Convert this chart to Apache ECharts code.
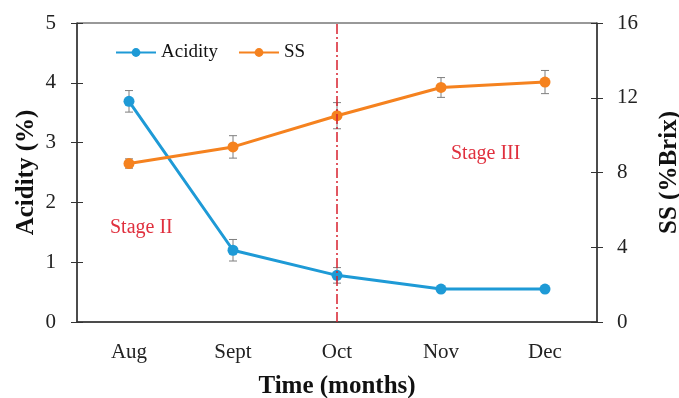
<!DOCTYPE html>
<html><head><meta charset="utf-8">
<script src="https://cdn.jsdelivr.net/npm/echarts@6/dist/echarts.min.js"></script>
<style>html,body{margin:0;padding:0;background:#fff}#c{width:679px;height:398px}</style>
</head><body><div id="c"></div>
<script>
var months = ['Aug', 'Sept', 'Oct', 'Nov', 'Dec'];
var acidity = [3.69, 1.2, 0.78, 0.55, 0.55];
var acidityErr = [0.18, 0.18, 0.13, 0, 0];
var ss = [8.48, 9.37, 11.04, 12.55, 12.84];
var ssErr = [0.25, 0.6, 0.7, 0.53, 0.62];
var leftTicks = [0, 1, 2, 3, 4, 5];
var rightTicks = [0, 4, 8, 12, 16];

var FONT = '"Liberation Serif", "Times New Roman", serif';
var BLUE = '#1e9ad6', ORANGE = '#f5821f', RED = '#d8202e';

function errSeries(vals, errs, yIdx) {
  return {
    type: 'custom', yAxisIndex: yIdx, z: 1, silent: true,
    data: vals.map(function (v, i) { return [i, v - errs[i], v + errs[i]]; }),
    renderItem: function (params, api) {
      var lo = api.coord([api.value(0), api.value(1)]);
      var hi = api.coord([api.value(0), api.value(2)]);
      if (Math.abs(hi[1] - lo[1]) < 1) return null;
      var w = 4;
      var st = { stroke: '#7f7f7f', lineWidth: 1 };
      return { type: 'group', children: [
        { type: 'line', shape: { x1: lo[0], y1: lo[1], x2: hi[0], y2: hi[1] }, style: st },
        { type: 'line', shape: { x1: lo[0] - w, y1: lo[1], x2: lo[0] + w, y2: lo[1] }, style: st },
        { type: 'line', shape: { x1: hi[0] - w, y1: hi[1], x2: hi[0] + w, y2: hi[1] }, style: st }
      ]};
    }
  };
}

var axisLabelStyle = { fontFamily: FONT, fontSize: 21, color: '#222' };
var titleStyle = { fontFamily: FONT, fontSize: 25, fontWeight: 'bold', color: '#111' };
var chart = echarts.init(document.getElementById('c'));
chart.setOption({
  animation: false,
  grid: { left: 77, right: 82, top: 23, bottom: 76, show: true, borderColor: '#333', borderWidth: 1,
          containLabel: false, outerBoundsMode: 'none' },
  legend: {
    left: 110, top: 38, itemWidth: 40, itemHeight: 11, itemGap: 20,
    textStyle: { fontFamily: FONT, fontSize: 19, color: '#111' },
    data: ['Acidity', 'SS']
  },
  xAxis: {
    type: 'category', data: months, boundaryGap: true,
    axisLine: { lineStyle: { color: '#333', width: 1.5 } },
    axisTick: { show: false },
    axisLabel: Object.assign({ margin: 20 }, axisLabelStyle),
    name: 'Time (months)', nameLocation: 'middle', nameGap: 52,
    nameTextStyle: titleStyle
  },
  yAxis: [
    { type: 'value', position: 'left', min: 0, max: 5, interval: 1,
      axisLine: { show: true, lineStyle: { color: '#333', width: 1.5 } },
      axisTick: { show: true, length: 6, lineStyle: { color: '#333' } },
      splitLine: { show: false },
      axisLabel: Object.assign({ margin: 21, formatter: function (v) { return leftTicks.indexOf(v) >= 0 ? String(v) : ''; } }, axisLabelStyle),
      name: 'Acidity (%)', nameLocation: 'middle', nameGap: 38, nameRotate: 90, nameMoveOverlap: false,
      nameTextStyle: titleStyle },
    { type: 'value', position: 'right', min: 0, max: 16, interval: 4,
      axisLine: { show: true, lineStyle: { color: '#333', width: 1.5 } },
      axisTick: { show: true, length: 6, lineStyle: { color: '#333' } },
      splitLine: { show: false },
      axisLabel: Object.assign({ margin: 20, formatter: function (v) { return rightTicks.indexOf(v) >= 0 ? String(v) : ''; } }, axisLabelStyle),
      name: 'SS (%Brix)', nameLocation: 'middle', nameGap: 60, nameRotate: 90,
      nameTextStyle: titleStyle },
    { type: 'value', position: 'left', min: 0, max: 5, interval: 1,
      axisLine: { show: false }, axisLabel: { show: false }, splitLine: { show: false },
      axisTick: { show: true, inside: true, length: 6, lineStyle: { color: '#333' } } },
    { type: 'value', position: 'right', min: 0, max: 16, interval: 4,
      axisLine: { show: false }, axisLabel: { show: false }, splitLine: { show: false },
      axisTick: { show: true, inside: true, length: 6, lineStyle: { color: '#333' } } }
  ],
  series: [
    errSeries(acidity, acidityErr, 0),
    errSeries(ss, ssErr, 1),
    { name: 'Acidity', type: 'line', yAxisIndex: 0, data: acidity, z: 3,
      symbol: 'circle', symbolSize: 11, color: BLUE,
      lineStyle: { width: 3, color: BLUE }, itemStyle: { color: BLUE } },
    { name: 'SS', type: 'line', yAxisIndex: 1, data: ss, z: 3,
      symbol: 'circle', symbolSize: 11, color: ORANGE,
      lineStyle: { width: 3, color: ORANGE }, itemStyle: { color: ORANGE },
      markLine: { silent: true, symbol: ['none', 'none'], label: { show: false },
        lineStyle: { color: RED, width: 1.5, type: [10, 3, 2, 3] },
        data: [{ xAxis: 'Oct' }] } }
  ],
  graphic: [
    { type: 'text', left: 110, top: 218, style: { text: 'Stage II', fontFamily: FONT, fontSize: 20, fill: '#e0303e' } },
    { type: 'text', left: 451, top: 144, style: { text: 'Stage III', fontFamily: FONT, fontSize: 20, fill: '#e0303e' } }
  ]
});
</script></body></html>
